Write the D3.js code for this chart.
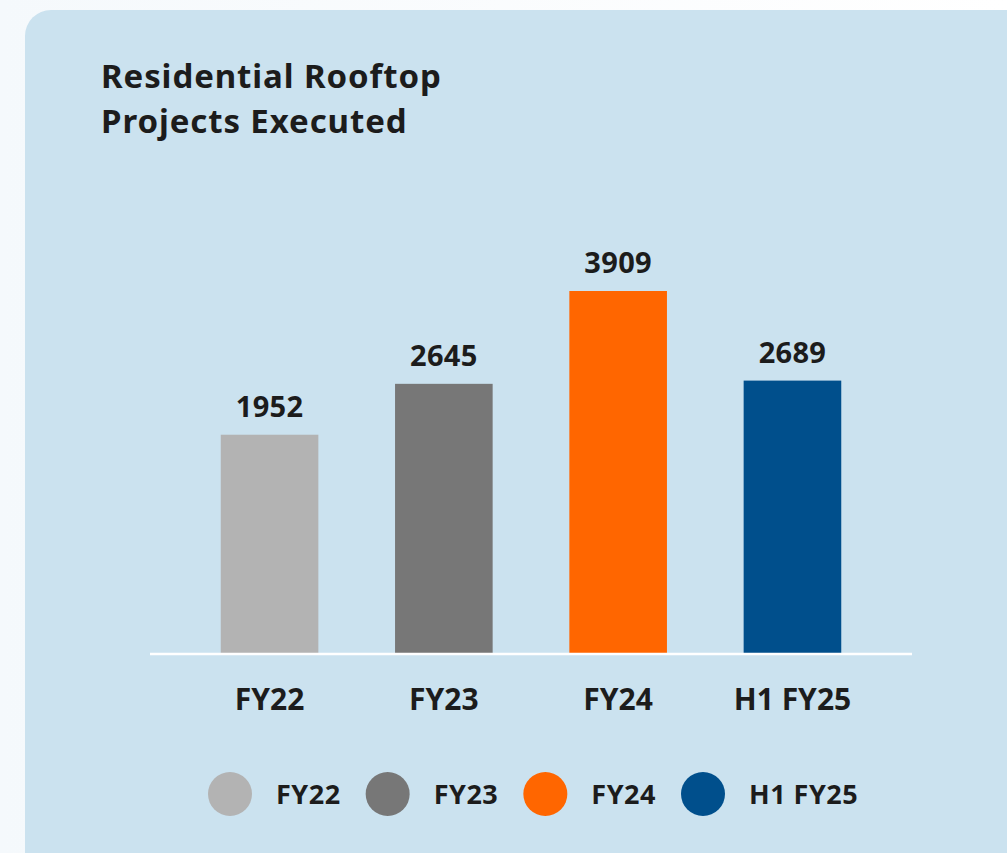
<!DOCTYPE html>
<html>
<head>
<meta charset="utf-8">
<script src="https://cdn.jsdelivr.net/npm/d3@7"></script>
<style>
  html, body { margin: 0; padding: 0; background: #ffffff; }
  svg { display: block; }
  text { font-family: "Noto Sans", "Open Sans", sans-serif; font-weight: 700; fill: #1c1c1c; }
</style>
</head>
<body>
<div id="chart"></div>
<script>
const categories = ["FY22", "FY23", "FY24", "H1 FY25"];
const values = [1952, 2645, 3909, 2689];
const colors = ["#b3b3b3", "#777777", "#ff6600", "#004f8c"];
const titleLines = ["Residential Rooftop", "Projects Executed"];

const W = 1007, H = 853;
const svg = d3.select("#chart").append("svg").attr("width", W).attr("height", H);

const defs = svg.append("defs");
const grad = defs.append("linearGradient").attr("id", "bg").attr("x1", 0).attr("x2", 1).attr("y1", 0).attr("y2", 0);
grad.append("stop").attr("offset", 0).attr("stop-color", "#f5f9fc");
grad.append("stop").attr("offset", 1).attr("stop-color", "#ffffff");
svg.append("rect").attr("width", W).attr("height", H).attr("fill", "url(#bg)");

// card
svg.append("rect").attr("x", 25).attr("y", 10).attr("width", 1010).attr("height", 870)
  .attr("rx", 26).attr("fill", "#cbe2ef");

// title
svg.append("g").selectAll("text").data(titleLines).join("text")
  .attr("x", 101).attr("y", (d, i) => 88 + i * 45)
  .attr("font-size", 33).attr("letter-spacing", 0.9)
  .text(d => d);

const baseY = 653;
const x = d3.scaleBand().domain(categories).range([182.4, 879.6]).paddingInner(0.44).paddingOuter(0.22);
const y = d3.scaleLinear().domain([-1020, 3909]).range([baseY, 291]);

// bars
svg.append("g").selectAll("rect").data(values).join("rect")
  .attr("x", (d, i) => x(categories[i]))
  .attr("width", x.bandwidth())
  .attr("y", d => y(d))
  .attr("height", d => baseY - y(d))
  .attr("fill", (d, i) => colors[i]);

// value labels
svg.append("g").selectAll("text").data(values).join("text")
  .attr("x", (d, i) => x(categories[i]) + x.bandwidth() / 2)
  .attr("y", d => y(d) - 18)
  .attr("text-anchor", "middle")
  .attr("font-size", 29).attr("letter-spacing", 0.3)
  .text(d => d);

// baseline
svg.append("line").attr("x1", 150).attr("x2", 912).attr("y1", baseY + 1).attr("y2", baseY + 1)
  .attr("stroke", "#ffffff").attr("stroke-width", 2.5);

// x axis labels
const xAxis = d3.axisBottom(x).tickSize(0).tickPadding(0);
const gx = svg.append("g").attr("transform", `translate(0,${baseY})`).call(xAxis);
gx.select(".domain").remove();
gx.selectAll("text")
  .attr("y", 57).attr("dy", 0)
  .attr("font-size", 30).attr("letter-spacing", 0)
  .attr("fill", "#1c1c1c")
  .style("font-family", '"Noto Sans", sans-serif').style("font-weight", 700);

// legend
const legendX = d3.scalePoint().domain(categories).range([230, 703]);
const lg = svg.append("g").selectAll("g").data(categories).join("g")
  .attr("transform", d => `translate(${legendX(d)},794)`);
lg.append("circle").attr("r", 22).attr("fill", (d, i) => colors[i]);
lg.append("text").attr("x", 46).attr("y", 10)
  .attr("font-size", 27).attr("letter-spacing", 0.5)
  .text(d => d);
</script>
</body>
</html>
